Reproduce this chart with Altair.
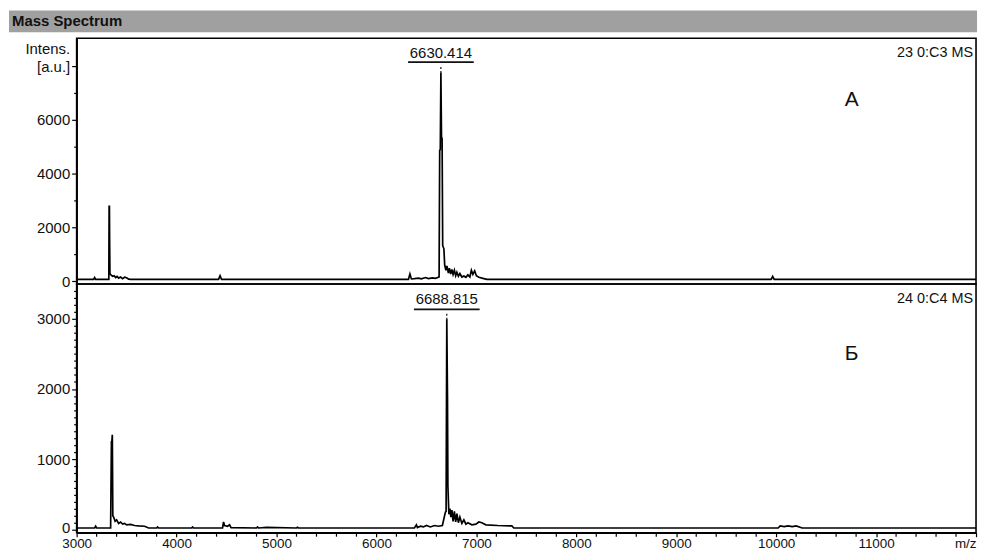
import altair as alt
import pandas as pd

# ---- data ----
title_text = "Mass Spectrum"

mz_a = [3000, 3170, 3180, 3190, 3322, 3325, 3328, 3330, 3333, 3345, 3360, 3375, 3390, 3405,
        3420, 3440, 3460, 3480, 3500, 3520, 3540, 4420, 4435, 4450, 6320, 6335, 6350, 6380,
        6420, 6450, 6490, 6520, 6560, 6590, 6627, 6633, 6639, 6645, 6651, 6657, 6663, 6675,
        6683, 6695, 6705, 6720, 6730, 6743, 6755, 6767, 6780, 6793, 6805, 6820, 6835, 6855,
        6875, 6895, 6915, 6935, 6950, 6965, 6983, 7000, 7025, 7065, 7105, 9950, 9965, 9980,
        12000]
int_a = [60, 60, 130, 60, 60, 2780, 2780, 1500, 280, 220, 180, 200, 130, 170,
         110, 150, 90, 140, 120, 70, 60, 60, 200, 60, 60, 260, 80, 90,
         110, 80, 130, 90, 120, 100, 150, 4860, 4900, 7760, 5370, 5300, 1320, 1200,
         590, 400, 560, 300, 480, 260, 430, 240, 400, 200, 330, 180, 280, 150,
         190, 140, 230, 150, 400, 250, 380, 200, 140, 100, 60, 60, 170, 60,
         60]

mz_b = [3000, 3180, 3190, 3200, 3340, 3348, 3352, 3357, 3362, 3370, 3385, 3400, 3420, 3440,
        3460, 3480, 3500, 3540, 3580, 3620, 3680, 3720, 3800, 3810, 3820, 4150, 4160, 4170,
        4460, 4470, 4480, 4510, 4530, 4545, 4800, 4810, 4820, 4900, 5200, 5210, 5220, 6380,
        6400, 6410, 6440, 6470, 6500, 6540, 6580, 6620, 6660, 6690, 6697, 6704, 6711, 6715,
        6725, 6735, 6745, 6755, 6767, 6780, 6793, 6805, 6820, 6835, 6855, 6875, 6895, 6915,
        6955, 6995, 7025, 7055, 7095, 7215, 7355, 7375, 10020, 10040, 10080, 10120, 10160,
        10200, 10260, 12000]
int_b = [25, 25, 50, 25, 25, 1250, 1250, 1350, 200, 180, 120, 140, 90, 110,
         80, 90, 70, 75, 60, 55, 50, 25, 25, 40, 25, 25, 40, 25,
         25, 110, 60, 50, 70, 30, 25, 40, 25, 35, 25, 35, 25, 25,
         70, 30, 50, 40, 60, 40, 60, 50, 60, 250, 260, 2990, 1880, 620,
         220, 300, 180, 280, 120, 260, 110, 230, 100, 180, 90, 140, 80, 100,
         70, 80, 110, 100, 70, 60, 55, 25, 25, 55, 45, 55, 45,
         55, 25, 25]

# apex position as drawn, and the printed label
peak_pos_a = [6645]
peak_label_a = ["6630.414"]
peak_pos_b = [6704]
peak_label_b = ["6688.815"]
run_a = ["23 0:C3 MS"]
run_b = ["24 0:C4 MS"]
letter_a = ["А"]
letter_b = ["Б"]

y_ticks_a = list(range(0, 8001, 1000))
y_ticks_b = list(range(0, 3401, 100))
x_major = list(range(3000, 12001, 1000))
x_minor = [v for v in range(3200, 12000, 200) if v % 1000 != 0]

# ---- layout / style ----
W = 904
H_A = 247
H_B = 250
EXT = 68
SANS = "'Liberation Sans', Arial, sans-serif"

xscale = alt.Scale(domain=[3000, 12000], nice=False, zero=False)


def spectrum(mz, inten, ydomain, yaxis, xaxis):
    df = pd.DataFrame({"mz": mz, "intensity": inten})
    return alt.Chart(df).mark_line(color="black", strokeWidth=1.7).encode(
        x=alt.X("mz:Q", scale=xscale, axis=xaxis),
        y=alt.Y("intensity:Q", scale=alt.Scale(domain=ydomain, nice=False, zero=False),
                axis=yaxis),
    )


def annotations(peak, plabel, run, letter, ytext, yline, ytick0, ytick1, yletter):
    pdf = pd.DataFrame({"mz": peak, "label": plabel})
    base = alt.Chart(pdf)
    txt = base.mark_text(font=SANS, fontSize=15, baseline="middle", align="center",
                         color="#111").encode(
        x=alt.X("mz:Q", scale=xscale), y=alt.value(ytext), text="label:N")
    uline = base.mark_rule(color="#111", strokeWidth=1.6, xOffset=-33, x2Offset=33).encode(
        x=alt.X("mz:Q", scale=xscale), x2=alt.X2("mz"), y=alt.value(yline))
    tick = base.mark_rule(color="#111", strokeWidth=1.2, strokeDash=[2, 2]).encode(
        x=alt.X("mz:Q", scale=xscale), y=alt.value(ytick0), y2=alt.value(ytick1))
    runt = alt.Chart(pd.DataFrame({"t": run})).mark_text(
        font=SANS, fontSize=14.5, align="right", baseline="middle", color="#111").encode(
        x=alt.value(W - 3), y=alt.value(15), text="t:N")
    lett = alt.Chart(pd.DataFrame({"t": letter})).mark_text(
        font=SANS, fontSize=21, align="center", baseline="middle", color="#111").encode(
        x=alt.value(779), y=alt.value(yletter), text="t:N")
    return [txt, uline, tick, runt, lett]


yaxis_a = alt.Axis(
    values=y_ticks_a, format="d",
    labelExpr="datum.value == 8000 ? '[a.u.]' : (datum.value % 2000 == 0 ? datum.label : '')",
    tickSize={"condition": {"test": "datum.value % 2000 == 0", "value": 5}, "value": 3},
    labelFont=SANS, labelFontSize=15, labelColor="#111", labelPadding=2, labelOverlap=False,
    title="Intens.", titleAngle=0, titleAlign="right", titleBaseline="middle",
    titleX=-7, titleY=10, titleFont=SANS, titleFontSize=15, titleFontWeight="normal",
    titleColor="#111",
    domainColor="black", domainWidth=1.6, tickColor="black", tickWidth=1.2,
    minExtent=EXT, maxExtent=EXT,
)

yaxis_b = alt.Axis(
    values=y_ticks_b, format="d",
    labelExpr="datum.value % 1000 == 0 ? datum.label : ''",
    tickSize={"condition": {"test": "datum.value % 1000 == 0", "value": 5}, "value": 3},
    labelOffset={"condition": {"test": "datum.value == 0", "value": -2}, "value": 0},
    labelFont=SANS, labelFontSize=15, labelColor="#111", labelPadding=2, labelOverlap=False,
    title=None,
    domainColor="black", domainWidth=1.6, tickColor="black", tickWidth=1.2,
    minExtent=EXT, maxExtent=EXT,
)

xaxis_b = alt.Axis(
    values=x_major, format="d",
    labelExpr="datum.value == 12000 ? 'm/z' : datum.label",
    labelAlign={"condition": {"test": "datum.value == 12000", "value": "right"}, "value": "center"},
    labelFlush=False, labelOverlap=False,
    tickSize=4, labelPadding=0, labelFont=SANS, labelFontSize=13.5, labelColor="#111",
    title=None, domainColor="black", domainWidth=1.6, tickColor="black", tickWidth=1.2,
)

line_a = spectrum(mz_a, int_a, [-110, 9044], yaxis_a, None)
line_b = spectrum(mz_b, int_b, [-42, 3492], yaxis_b, xaxis_b)

minor_ticks = alt.Chart(pd.DataFrame({"mz": x_minor})).mark_rule(
    color="black", strokeWidth=1.2).encode(
    x=alt.X("mz:Q", scale=xscale), y=alt.value(H_B), y2=alt.value(H_B + 4))

bar = alt.Chart(pd.DataFrame({"t": [title_text]})).mark_rect(color="#a0a0a0").encode(
    x=alt.value(-EXT), x2=alt.value(W + 1), y=alt.value(-28), y2=alt.value(-6))
bar_text = alt.Chart(pd.DataFrame({"t": [title_text]})).mark_text(
    font=SANS, fontSize=15, fontWeight="bold", align="left", baseline="middle",
    color="#111").encode(x=alt.value(-EXT + 3), y=alt.value(-17), text="t:N")

top = alt.layer(bar, bar_text, line_a,
                *annotations(peak_pos_a, peak_label_a, run_a, letter_a, 15, 24, 29, 35, 62)
                ).properties(width=W, height=H_A)
bottom = alt.layer(line_b, minor_ticks,
                   *annotations(peak_pos_b, peak_label_b, run_b, letter_b, 15, 25.5, 30, 36, 70.5)
                   ).properties(width=W, height=H_B)

chart = alt.vconcat(top, bottom, spacing=0, bounds="flush").properties(
    padding={"left": 0, "top": 0, "right": 0, "bottom": 0},
    background="white",
).configure_view(stroke="black", strokeWidth=1.6).configure_axis(grid=False)

chart.save("out.html", embed_options={"renderer": "svg", "actions": False})
